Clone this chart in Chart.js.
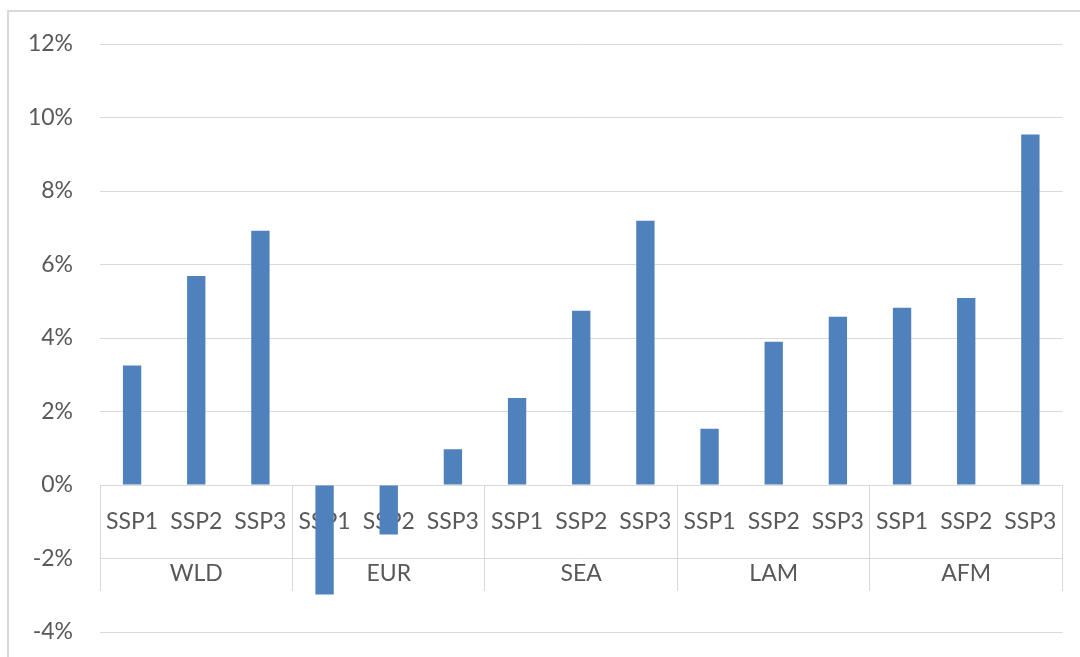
<!DOCTYPE html>
<html>
<head>
<meta charset="utf-8">
<script src="https://cdn.jsdelivr.net/npm/chart.js@4/dist/chart.umd.min.js"></script>
<style>
  html, body { margin: 0; padding: 0; background: #ffffff; }
  #wrap { position: relative; width: 1080px; height: 657px; overflow: hidden; }
  #frame { position: absolute; left: 7px; top: 10px; right: -4px; bottom: -4px;
           border-left: 2px solid #d9d9d9; border-top: 2px solid #d9d9d9; }
  #c { position: absolute; left: 0; top: 0; }
</style>
</head>
<body>
<div id="wrap">
  <div id="frame"></div>
  <canvas id="c" width="1080" height="657"></canvas>
</div>
<script>
// Regions (outer category level) and scenarios (inner level)
const regions = ['WLD', 'EUR', 'SEA', 'LAM', 'AFM'];
const scenarios = ['SSP1', 'SSP2', 'SSP3'];

// Percentage change per scenario, one array per region
const wld = [3.25, 5.69, 6.92];
const eur = [-2.98, -1.35, 0.97];
const sea = [2.37, 4.74, 7.19];
const lam = [1.53, 3.90, 4.58];
const afm = [4.82, 5.09, 9.54];

// Y-axis ticks (percent)
const yTicks = [-4, -2, 0, 2, 4, 6, 8, 10, 12];

const seriesByRegion = [wld, eur, sea, lam, afm];
const innerLabels = regions.flatMap(() => scenarios);
const values = seriesByRegion.flat();

const labelFont = { family: 'Lato, "Open Sans", sans-serif', size: 23 };
const textColor = '#595959';
const lineColor = '#d9d9d9';

// The category axes sit on the zero line inside the plot, so they take no layout room
const noHeight = (s) => { s.height = 0; };

new Chart(document.getElementById('c'), {
  type: 'bar',
  data: {
    labels: innerLabels,
    datasets: [{
      data: values,
      backgroundColor: '#4f81bd',
      borderWidth: 0,
      categoryPercentage: 1,
      barPercentage: 1 / 3.5
    }]
  },
  options: {
    responsive: false,
    animation: false,
    devicePixelRatio: 1,
    layout: { padding: { top: 44, right: 17, bottom: 25, left: 0 } },
    plugins: { legend: { display: false }, tooltip: { enabled: false } },
    scales: {
      y: {
        min: yTicks[0],
        max: yTicks[yTicks.length - 1],
        afterFit: (s) => { s.width = 100; s.paddingTop = 14; s.paddingBottom = 14; },
        afterBuildTicks: (s) => { s.ticks = yTicks.map(v => ({ value: v })); },
        grid: { color: lineColor, lineWidth: 1, drawTicks: false },
        border: { display: false },
        ticks: {
          color: textColor, font: labelFont, padding: 27,
          callback: (v) => v + '%'
        }
      },
      x: {
        type: 'category',
        position: { y: 0 },
        offset: true,
        z: 1,
        afterFit: noHeight,
        grid: { display: false, drawTicks: false, offset: true },
        border: { display: true, color: lineColor, width: 1 },
        ticks: {
          color: textColor, font: labelFont, padding: 23,
          autoSkip: false, maxRotation: 0
        }
      },
      x2: {
        type: 'category',
        labels: regions,
        position: { y: 0 },
        offset: true,
        z: 1,
        afterFit: noHeight,
        grid: {
          display: true, offset: true, drawOnChartArea: false,
          drawTicks: true, tickLength: 106, tickColor: lineColor, tickWidth: 1
        },
        border: { display: false },
        ticks: {
          color: textColor, font: labelFont, padding: -31,
          autoSkip: false, maxRotation: 0
        }
      }
    }
  }
});
</script>
</body>
</html>
